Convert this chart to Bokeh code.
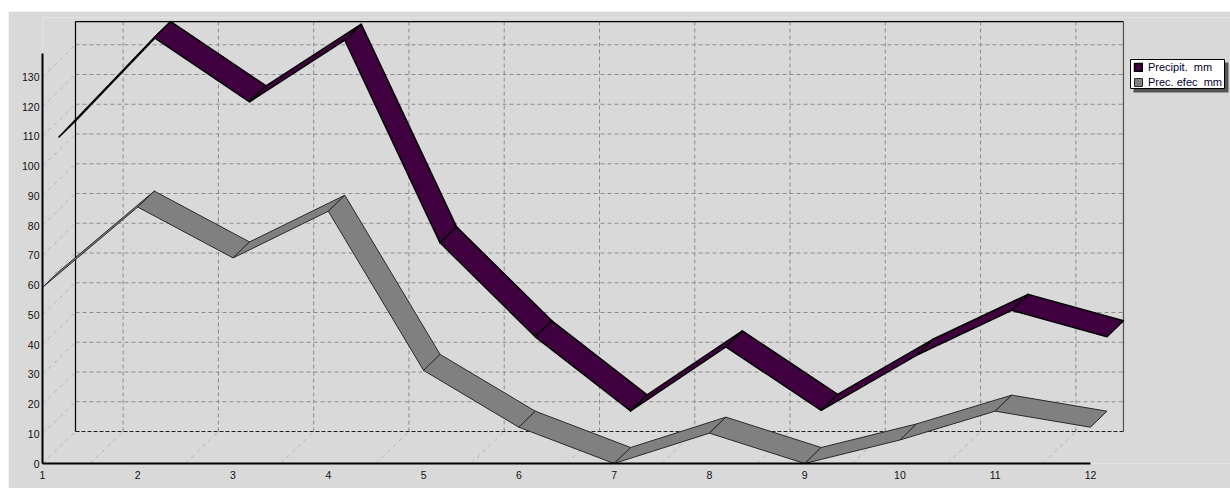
from bokeh.plotting import figure
from bokeh.models import FixedTicker, Legend, LegendItem, BoxAnnotation, Label, Range1d, Spacer
from bokeh.layouts import column, row
from bokeh.embed import file_html
from bokeh.resources import INLINE

# ---------------- data ----------------
months = list(range(1, 13))
precip = [104.4, 137.8, 116.2, 136.9, 68.8, 37.2, 12.3, 33.8, 12.5, 31.0, 46.1, 37.2]
efec = [59.2, 86.2, 69.1, 84.8, 31.3, 12.2, 0.0, 10.2, 0.0, 7.9, 17.6, 12.2]
y_ticks = list(range(0, 140, 10))
series_names = ["Precipit.  mm", "Prec. efec  mm"]
x_title = "Mes"

# ---------------- geometry / style ----------------
BG = "#D9D9D9"
W, H = 1222, 477
LB, TB, BB, RB = 34, 6, 25, 0
PX_PER_MONTH = 95.27
PX_PER_UNIT = 2.975
DEPTH_X_PX, DEPTH_Y_PX = 33.0, 32.0
dxd = DEPTH_X_PX / PX_PER_MONTH
dyd = DEPTH_Y_PX / PX_PER_UNIT
y_max = max(precip)
x_end = months[0] + (W - LB - RB) / PX_PER_MONTH
y_end = (H - TB - BB) / PX_PER_UNIT

p = figure(width=W, height=H, x_range=Range1d(months[0], x_end), y_range=Range1d(0, y_end),
           output_backend="svg", toolbar_location=None,
           min_border_left=LB, min_border_right=RB, min_border_top=TB, min_border_bottom=BB,
           background_fill_color=BG, border_fill_color=BG, outline_line_color=None)
p.xgrid.visible = False
p.ygrid.visible = False

x0, x1 = months[0], months[-1]
half = [m + 0.5 for m in months[:-1]]
gy = [v for v in y_ticks if v > 0]

# left wall diagonals
p.segment(x0=[x0] * len(y_ticks), y0=y_ticks, x1=[x0 + dxd] * len(y_ticks), y1=[v + dyd for v in y_ticks],
          line_color="#B4B4B4", line_dash="4 4", line_width=1)
# floor diagonals
p.segment(x0=half, y0=[0] * len(half), x1=[m + dxd for m in half], y1=[dyd] * len(half),
          line_color="#B4B4B4", line_dash="4 4", line_width=1)
# back wall horizontal grid
p.segment(x0=[x0 + dxd] * len(gy), y0=[v + dyd for v in gy], x1=[x1 + dxd] * len(gy), y1=[v + dyd for v in gy],
          line_color="#8C8C8C", line_dash="4 3", line_width=1)
# back wall vertical grid
p.segment(x0=[m + dxd for m in half], y0=[dyd] * len(half), x1=[m + dxd for m in half], y1=[y_max + dyd] * len(half),
          line_color="#8C8C8C", line_dash="4 3", line_width=1)
# back wall edges
p.segment(x0=[x0 + dxd], y0=[dyd], x1=[x1 + dxd], y1=[dyd], line_color="#202020", line_dash="4 2", line_width=1)
p.segment(x0=[x0 + dxd, x0 + dxd], y0=[dyd, y_max + dyd], x1=[x0 + dxd, x1 + dxd], y1=[y_max + dyd, y_max + dyd],
          line_color="black", line_width=1.2)
p.segment(x0=[x1 + dxd], y0=[dyd], x1=[x1 + dxd], y1=[y_max + dyd], line_color="#505050", line_width=1.2)


def ribbon(vals, z0, z1):
    xs, ys = [], []
    for i in range(len(vals) - 1):
        xa, xb = months[i], months[i + 1]
        ya, yb = vals[i], vals[i + 1]
        xs.append([xa + z0 * dxd, xb + z0 * dxd, xb + z1 * dxd, xa + z1 * dxd])
        ys.append([ya + z0 * dyd, yb + z0 * dyd, yb + z1 * dyd, ya + z1 * dyd])
    return xs, ys


xs, ys = ribbon(precip, 0.5, 1.0)
r1 = p.patches(xs, ys, fill_color="#400040", line_color="black", line_width=1.5, line_join="round")
xs, ys = ribbon(efec, 0.0, 0.5)
r2 = p.patches(xs, ys, fill_color="#808080", line_color="#2A2A2A", line_width=1, line_join="round")

# axes
for ax in (p.xaxis[0], p.yaxis[0]):
    ax.axis_line_color = "black"
    ax.axis_line_width = 2
    ax.major_tick_out = 0
    ax.major_tick_in = 0
    ax.minor_tick_line_color = None
    ax.major_label_text_font = "Liberation Sans"
    ax.major_label_text_font_size = "10.5px"
    ax.major_label_text_color = "#111111"
p.xaxis.ticker = FixedTicker(ticks=months)
p.yaxis.ticker = FixedTicker(ticks=y_ticks)
p.xaxis.bounds = (x0, x1)
p.yaxis.bounds = (0, y_max)
p.xaxis.major_label_standoff = 7
p.yaxis.major_label_standoff = 3

p.add_layout(Label(x=(x0 + x1) / 2, y=-4.4, text=x_title, text_align="center", text_baseline="top",
                   text_font="Liberation Sans", text_font_size="10.5px", text_color="#111111"))

# legend box + shadow (screen units relative to frame)
p.add_layout(BoxAnnotation(left=1091, right=1186, bottom=371, top=401, left_units="screen", right_units="screen",
                           bottom_units="screen", top_units="screen", fill_color="#555555", fill_alpha=1,
                           line_color=None))
p.add_layout(BoxAnnotation(left=1088, right=1182, bottom=375, top=404, left_units="screen", right_units="screen",
                           bottom_units="screen", top_units="screen", fill_color="white", fill_alpha=1,
                           line_color="black", line_width=1, line_alpha=1))
legend = Legend(items=[LegendItem(label=series_names[0], renderers=[r1]),
                       LegendItem(label=series_names[1], renderers=[r2])],
                location=(1091, 374), padding=1, spacing=1, glyph_width=10, glyph_height=10,
                label_height=14, label_standoff=5, label_text_font="Liberation Sans",
                label_text_font_size="11px", label_text_color="#000030",
                border_line_color=None, background_fill_alpha=0)
p.add_layout(legend)

layout = row(Spacer(width=8, height=H + 11), column(Spacer(width=W, height=11), p))
open("out.html", "w").write(file_html(layout, INLINE))
